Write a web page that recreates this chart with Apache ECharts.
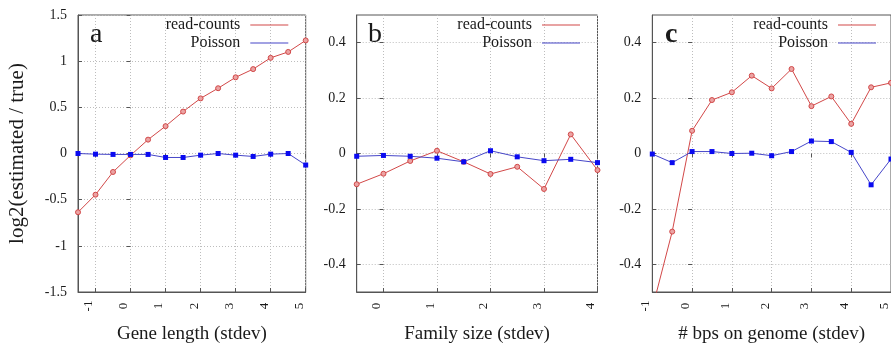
<!DOCTYPE html>
<html><head><meta charset="utf-8">
<script src="https://cdn.jsdelivr.net/npm/echarts@6/dist/echarts.min.js"></script>
<style>html,body{margin:0;padding:0;background:#fff}#c{width:891px;height:349px}</style>
</head><body><div id="c"></div>
<script>
// ---- data ----
const xA = [-1.5,-1,-0.5,0,0.5,1,1.5,2,2.5,3,3.5,4,4.5,5];
const readA = [-0.636,-0.446,-0.2,-0.02,0.15,0.296,0.454,0.597,0.707,0.825,0.914,1.036,1.1,1.225];
const poisA = [0,-0.007,-0.01,-0.01,-0.01,-0.043,-0.043,-0.018,0,-0.018,-0.032,-0.007,0,-0.125];
const xB = [-0.5,0,0.5,1,1.5,2,2.5,3,3.5,4];
const readB = [-0.111,-0.073,-0.027,0.01,-0.03,-0.074,-0.048,-0.128,0.069,-0.06];
const poisB = [-0.01,-0.007,-0.01,-0.017,-0.03,0.01,-0.012,-0.026,-0.021,-0.033];
const xC = [-1,-0.5,0,0.5,1,1.5,2,2.5,3,3.5,4,4.5,5];
const readC = [-0.56,-0.282,0.082,0.193,0.221,0.281,0.235,0.305,0.171,0.206,0.107,0.239,0.255];
const poisC = [-0.002,-0.033,0.007,0.007,0,0.001,-0.008,0.007,0.045,0.043,0.004,-0.113,-0.02];
const xTicksA = [-1,0,1,2,3,4,5];
const xTicksB = [0,1,2,3,4];
const xTicksC = [-1,0,1,2,3,4,5];
const yTicksA = [-1.5,-1,-0.5,0,0.5,1,1.5];
const yTicksBC = [-0.4,-0.2,0,0.2,0.4];
const seriesNames = ['read-counts','Poisson'];
const xTitles = ['Gene length (stdev)','Family size (stdev)','# bps on genome (stdev)'];
const yTitle = 'log2(estimated / true)';
const letters = ['a','b','c'];

// ---- style ----
const FONT = 'Liberation Serif';
const AX = '#555';
const GRIDC = '#bdbdbd';
const TXT = '#1a1a1a';
const RED = '#d24848', REDF = '#eba3a3', BLUEL = '#4646c8', BLUE = '#0a0af0';

const panels = [
  {left:78, width:227.7, xmin:-1.5, xmax:5, xt:xTicksA, ymin:-1.5, ymax:1.5, yt:yTicksA, x:xA, r:readA, p:poisA, legRight:602.7, letterLeft:90, bold:'normal'},
  {left:356.7, width:240.8, xmin:-0.5, xmax:4, xt:xTicksB, ymin:-0.5, ymax:0.5, yt:yTicksBC, x:xB, r:readB, p:poisB, legRight:311, letterLeft:368, bold:'normal'},
  {left:652.3, width:241.2, xmin:-1, xmax:5, xt:xTicksC, ymin:-0.5, ymax:0.5, yt:yTicksBC, x:xC, r:readC, p:poisC, legRight:15, letterLeft:665, bold:'bold'}
];
const TOP = 15, HEIGHT = 280.7;

const grid = [], xAxis = [], yAxis = [], series = [], legend = [], title = [];
panels.forEach((P, i) => {
  grid.push({left:P.left, top:TOP, width:P.width, height:HEIGHT, show:true, borderColor:AX, borderWidth:1, backgroundColor:'transparent'});
  xAxis.push({type:'value', gridIndex:i, min:P.xmin, max:P.xmax, position:'bottom',
    axisLine:{show:true, onZero:false, lineStyle:{color:AX}},
    axisTick:{show:true, inside:true, length:4, customValues:P.xt, lineStyle:{color:AX}},
    axisLabel:{customValues:P.xt, rotate:90, align:'center', verticalAlign:'bottom', margin:14, fontFamily:FONT, fontSize:13, color:TXT},
    splitLine:{show:true, lineStyle:{color:GRIDC, type:[1,2]}},
    name:xTitles[i], nameLocation:'middle', nameGap:33,
    nameTextStyle:{fontFamily:FONT, fontSize:19, color:TXT}});
  xAxis.push({type:'value', gridIndex:i, min:P.xmin, max:P.xmax, position:'top',
    axisLine:{show:false}, axisLabel:{show:false}, splitLine:{show:false},
    axisTick:{show:true, inside:true, length:4, customValues:P.xt, lineStyle:{color:AX}}});
  const ya = {type:'value', gridIndex:i, min:P.ymin, max:P.ymax, position:'left',
    axisLine:{show:true, onZero:false, lineStyle:{color:AX}},
    axisTick:{show:true, inside:true, length:4, customValues:P.yt, lineStyle:{color:AX}},
    axisLabel:{customValues:P.yt, margin:11, fontFamily:FONT, fontSize:14, color:TXT},
    splitLine:{show:true, lineStyle:{color:GRIDC, type:[1,2]}}};
  if (i === 0) {
    ya.name = yTitle; ya.nameLocation = 'middle'; ya.nameGap = 50; ya.nameRotate = 90;
    ya.nameTextStyle = {fontFamily:FONT, fontSize:21, color:TXT};
  }
  yAxis.push(ya);
  yAxis.push({type:'value', gridIndex:i, min:P.ymin, max:P.ymax, position:'right',
    axisLine:{show:false}, axisLabel:{show:false}, splitLine:{show:false},
    axisTick:{show:true, inside:true, length:4, customValues:P.yt, lineStyle:{color:AX}}});

  series.push({type:'line', name:seriesNames[0], xAxisIndex:2*i, yAxisIndex:2*i,
    data:P.x.map((v,k)=>[v, P.r[k]]), symbol:'circle', symbolSize:5, clip:true,
    lineStyle:{color:RED, width:1}, itemStyle:{color:REDF, borderColor:RED, borderWidth:1}, z:2});
  series.push({type:'line', name:seriesNames[1], xAxisIndex:2*i, yAxisIndex:2*i,
    data:P.x.map((v,k)=>[v, P.p[k]]), symbol:'rect', symbolSize:5, clip:true,
    lineStyle:{color:BLUEL, width:1}, itemStyle:{color:BLUE, borderWidth:0}, z:3});

  legend.push({orient:'vertical', right:P.legRight, top:16, align:'right', padding:0, itemGap:0,
    itemWidth:38, itemHeight:1, icon:'rect', selectedMode:false,
    textStyle:{fontFamily:FONT, fontSize:16, color:TXT, lineHeight:18, padding:[0,5,0,0]},
    data:[{name:seriesNames[0], itemStyle:{color:RED, borderWidth:0}},
          {name:seriesNames[1], itemStyle:{color:BLUEL, borderWidth:0}}]});

  title.push({text:letters[i], left:P.letterLeft, top:21, padding:0,
    textStyle:{fontFamily:FONT, fontSize:28, fontWeight:P.bold, color:TXT}});
});

const chart = echarts.init(document.getElementById('c'), null, {renderer:'canvas'});
chart.setOption({animation:false, backgroundColor:'#fff', title, grid, xAxis, yAxis, legend, series});
</script>
</body></html>
